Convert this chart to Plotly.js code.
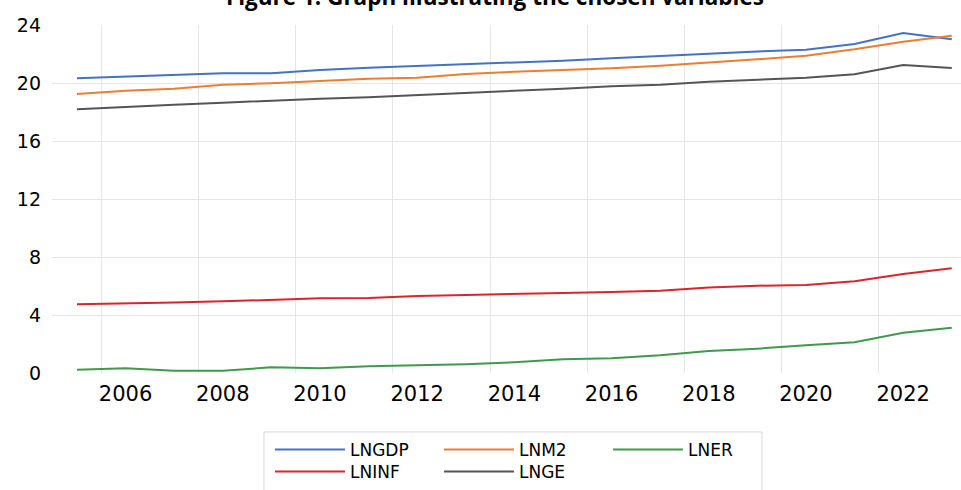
<!DOCTYPE html>
<html>
<head>
<meta charset="utf-8">
<script src="https://cdn.plot.ly/plotly-3.0.1.min.js"></script>
<style>
html,body{margin:0;padding:0;background:#fff;}
#chart{width:961px;height:490px;}
</style>
</head>
<body>
<div id="chart"></div>
<script>
var years = [2005,2006,2007,2008,2009,2010,2011,2012,2013,2014,2015,2016,2017,2018,2019,2020,2021,2022,2023];
var LNGDP = [20.32,20.44,20.57,20.67,20.67,20.90,21.06,21.17,21.33,21.41,21.54,21.70,21.86,22.05,22.17,22.30,22.69,23.45,23.01];
var LNM2  = [19.24,19.47,19.61,19.88,19.98,20.14,20.30,20.37,20.62,20.78,20.90,21.01,21.19,21.40,21.63,21.88,22.32,22.85,23.26];
var LNER  = [0.23,0.32,0.16,0.16,0.39,0.32,0.46,0.51,0.60,0.74,0.94,1.01,1.22,1.52,1.68,1.91,2.12,2.78,3.12];
var LNINF = [4.74,4.78,4.87,4.94,5.03,5.15,5.17,5.31,5.38,5.43,5.52,5.59,5.68,5.89,6.02,6.07,6.32,6.83,7.22];
var LNGE  = [18.19,18.37,18.50,18.64,18.80,18.92,19.01,19.15,19.31,19.47,19.61,19.77,19.88,20.09,20.23,20.37,20.60,21.24,21.03];
var xTickVals = [2006,2008,2010,2012,2014,2016,2018,2020,2022];
var xTickText = ['2006','2008','2010','2012','2014','2016','2018','2020','2022'];
var yTickVals = [0,4,8,12,16,20,24];
var yTickText = ['0','4','8','12','16','20','24'];

var seriesNames = ['LNGDP','LNM2','LNER','LNINF','LNGE'];
var seriesData = [LNGDP, LNM2, LNER, LNINF, LNGE];
var seriesColors = ['#4472C4','#ED7D31','#3E9A4C','#D9252C','#555555'];
var seriesLegend = ['legend','legend','legend','legend2','legend2'];

var traces = seriesNames.map(function(n,i){
  return {x: years, y: seriesData[i], name: n, type: 'scatter', mode: 'lines',
          legend: seriesLegend[i],
          line: {color: seriesColors[i], width: 2}};
});

var legendCommon = {orientation: 'h', xanchor: 'left', x: 0.2398,
           borderwidth: 0, bgcolor: 'rgba(0,0,0,0)',
           font: {size: 17, family: 'DejaVu Sans'}, itemwidth: 70,
           entrywidth: 84, entrywidthmode: 'pixels', traceorder: 'normal'};

var layout = {
  width: 961, height: 490,
  paper_bgcolor: '#fff', plot_bgcolor: '#fff',
  margin: {l: 52, r: 0, t: 25, b: 117},
  font: {family: 'DejaVu Sans', color: '#000'},
  title: {text: 'Figure 1: Graph illustrating the chosen variables',
          font: {family: 'Open Sans', size: 22.5, weight: 'bold', color: '#000'},
          x: 0.515, xanchor: 'center', xref: 'container',
          y: 1, yanchor: 'bottom', yref: 'paper', pad: {b: 20}},
  xaxis: {range: [2004.486, 2023.19], tickvals: xTickVals, ticktext: xTickText,
          showgrid: false, zeroline: false, showline: false, ticks: '',
          ticklabelstandoff: 6,
          tickfont: {size: 21, family: 'DejaVu Sans'},
          minor: {tick0: 2005.5, dtick: 2, showgrid: true, gridcolor: '#e6e6e6', gridwidth: 1, ticks: ''}},
  yaxis: {range: [0, 24], tickvals: yTickVals, ticktext: yTickText,
          showgrid: true, gridcolor: '#e6e6e6', gridwidth: 1, zeroline: false, showline: false,
          ticks: '', ticklabelstandoff: 10, tickfont: {size: 19, family: 'DejaVu Sans'}},
  showlegend: true,
  legend: Object.assign({}, legendCommon, {y: -0.1695, yanchor: 'top'}),
  legend2: Object.assign({}, legendCommon, {y: -0.3362, yanchor: 'bottom'}),
  shapes: [{type: 'rect', xref: 'paper', yref: 'paper', x0: 0.2332, x1: 0.781, y0: -0.36, y1: -0.1695,
            line: {color: '#d9d9d9', width: 1}, fillcolor: 'rgba(0,0,0,0)', layer: 'below'}]
};

Plotly.newPlot('chart', traces, layout, {displayModeBar: false, staticPlot: true});
</script>
</body>
</html>
